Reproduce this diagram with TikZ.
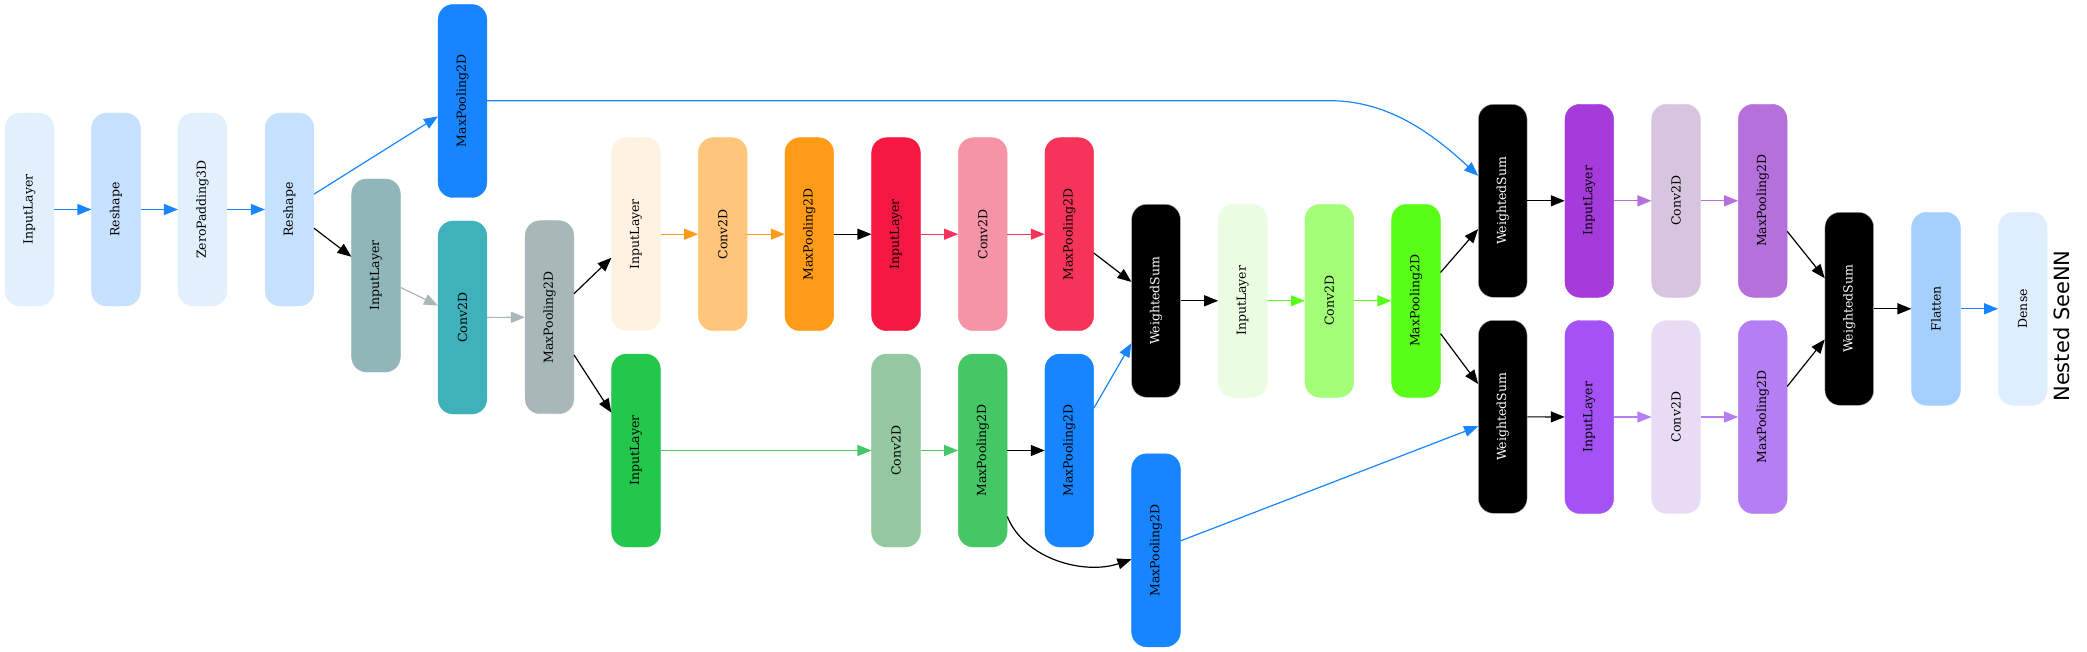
\documentclass[tikz,border=0pt]{standalone}
\usepackage{fontspec}
\setmainfont{DejaVu Serif}
\newfontfamily\titlefont{DejaVu Sans}
\usetikzlibrary{arrows.meta,calc}
\definecolor{cA}{HTML}{E2EFFD}
\definecolor{cB}{HTML}{C6E1FD}
\definecolor{cBlue}{HTML}{1685FF}
\definecolor{cTg}{HTML}{8FB7BA}
\definecolor{cTe}{HTML}{3FB1BB}
\definecolor{cGr}{HTML}{A8B8B9}
\definecolor{cO1}{HTML}{FFF2E2}
\definecolor{cO2}{HTML}{FFC57A}
\definecolor{cO3}{HTML}{FF9B17}
\definecolor{cR1}{HTML}{F71743}
\definecolor{cR2}{HTML}{F694A7}
\definecolor{cR3}{HTML}{F6345A}
\definecolor{cG1}{HTML}{23C74C}
\definecolor{cG2}{HTML}{93C8A0}
\definecolor{cG3}{HTML}{44C764}
\definecolor{cL1}{HTML}{EAFDE3}
\definecolor{cL2}{HTML}{A3FE78}
\definecolor{cL3}{HTML}{58FE18}
\definecolor{cP1}{HTML}{A63BDC}
\definecolor{cP2}{HTML}{D7C5E0}
\definecolor{cP3}{HTML}{B670DC}
\definecolor{cQ1}{HTML}{A452F5}
\definecolor{cQ2}{HTML}{E8DCF5}
\definecolor{cQ3}{HTML}{B67EF5}
\definecolor{cFl}{HTML}{A5D0FD}
\definecolor{cDe}{HTML}{DFEEFD}
\begin{document}
\begin{tikzpicture}[x=1pt,y=-1pt,
  layer/.style={rectangle, rounded corners=15pt, minimum width=48.7pt, minimum height=193pt,
    inner sep=0pt, font=\fontsize{12.5}{14}\selectfont, text=black, fill=#1, draw=#1, line width=0.4pt},
  wsum/.style={layer=black, draw=gray!60, text=white},
  edge/.style={draw=#1, -{Triangle[length=14pt,width=11pt]}, line width=1.2pt},
  edge/.default=black]
\useasboundingbox (0,0) rectangle (2087,652);
% nodes
\node[layer=cA] (in1) at (29.5,209.5) {\rotatebox{90}{InputLayer}};
\node[layer=cB] (rs1) at (116,209.5) {\rotatebox{90}{Reshape}};
\node[layer=cA] (zp) at (202.5,209.5) {\rotatebox{90}{ZeroPadding3D}};
\node[layer=cB] (rs2) at (289.5,209.5) {\rotatebox{90}{Reshape}};
\node[layer=cBlue] (mpA) at (462.5,101) {\rotatebox{90}{MaxPooling2D}};
\node[layer=cTg] (inT) at (376,275.5) {\rotatebox{90}{InputLayer}};
\node[layer=cTe] (cvT) at (462.5,317.5) {\rotatebox{90}{Conv2D}};
\node[layer=cGr] (mpG) at (549.5,317.2) {\rotatebox{90}{MaxPooling2D}};
\node[layer=cO1] (inO) at (636,234.2) {\rotatebox{90}{InputLayer}};
\node[layer=cO2] (cvO) at (722.7,234.2) {\rotatebox{90}{Conv2D}};
\node[layer=cO3] (mpO) at (809.3,234.2) {\rotatebox{90}{MaxPooling2D}};
\node[layer=cR1] (inR) at (896,234.2) {\rotatebox{90}{InputLayer}};
\node[layer=cR2] (cvR) at (982.7,234.2) {\rotatebox{90}{Conv2D}};
\node[layer=cR3] (mpR) at (1069.3,234.2) {\rotatebox{90}{MaxPooling2D}};
\node[layer=cG1] (inG) at (636,450.5) {\rotatebox{90}{InputLayer}};
\node[layer=cG2] (cvG) at (896,450.5) {\rotatebox{90}{Conv2D}};
\node[layer=cG3] (mpGG) at (982.7,450.5) {\rotatebox{90}{MaxPooling2D}};
\node[layer=cBlue] (mpB2) at (1069.3,450.5) {\rotatebox{90}{MaxPooling2D}};
\node[layer=cBlue] (mpB3) at (1156,550.3) {\rotatebox{90}{MaxPooling2D}};
\node[wsum] (ws1) at (1156,300.8) {\rotatebox{90}{WeightedSum}};
\node[layer=cL1] (inL) at (1242.7,300.8) {\rotatebox{90}{InputLayer}};
\node[layer=cL2] (cvL) at (1329.3,300.8) {\rotatebox{90}{Conv2D}};
\node[layer=cL3] (mpL) at (1416,300.8) {\rotatebox{90}{MaxPooling2D}};
\node[wsum] (ws2) at (1502.7,200.8) {\rotatebox{90}{WeightedSum}};
\node[wsum] (ws3) at (1502.7,416.8) {\rotatebox{90}{WeightedSum}};
\node[layer=cP1] (inP) at (1589.3,200.8) {\rotatebox{90}{InputLayer}};
\node[layer=cP2] (cvP) at (1676,200.8) {\rotatebox{90}{Conv2D}};
\node[layer=cP3] (mpP) at (1762.7,200.8) {\rotatebox{90}{MaxPooling2D}};
\node[layer=cQ1] (inQ) at (1589.3,417) {\rotatebox{90}{InputLayer}};
\node[layer=cQ2] (cvQ) at (1676,417) {\rotatebox{90}{Conv2D}};
\node[layer=cQ3] (mpQ) at (1762.7,417) {\rotatebox{90}{MaxPooling2D}};
\node[wsum] (ws4) at (1849.3,308.8) {\rotatebox{90}{WeightedSum}};
\node[layer=cFl] (fl) at (1936,308.8) {\rotatebox{90}{Flatten}};
\node[layer=cDe] (de) at (2022.7,308.8) {\rotatebox{90}{Dense}};
\node[font=\titlefont\fontsize{21}{24}\selectfont, rotate=90, inner sep=0pt] (title) at (2062,326) {Nested SeeNN};
% edges
\draw[edge=cBlue] (in1) -- (rs1);
\draw[edge=cBlue] (rs1) -- (zp);
\draw[edge=cBlue] (zp) -- (rs2);
\draw[edge=cBlue] (rs2) -- (mpA);
\draw[edge] (rs2) -- (inT);
\draw[edge=cGr] (inT) -- (cvT);
\draw[edge=cGr] (cvT) -- (mpG);
\draw[edge] (mpG) -- (inO);
\draw[edge] (mpG) -- (inG);
\draw[edge=cO3] (inO) -- (cvO);
\draw[edge=cO3] (cvO) -- (mpO);
\draw[edge] (mpO) -- (inR);
\draw[edge=cR3] (inR) -- (cvR);
\draw[edge=cR3] (cvR) -- (mpR);
\draw[edge] (mpR) -- (ws1);
\draw[edge=cG3] (inG) -- (cvG);
\draw[edge=cG3] (cvG) -- (mpGG);
\draw[edge] (mpGG) -- (mpB2);
\draw[edge] ($(mpGG.east)+(0,66)$) .. controls (1025,560) and (1085,575) .. ($(mpB3.west)+(0,9)$);
\draw[edge=cBlue] (mpB2) -- (ws1);
\draw[edge=cBlue] (mpB3) -- (ws3);
\draw[edge] (ws1) -- (inL);
\draw[edge=cL3] (inL) -- (cvL);
\draw[edge=cL3] (cvL) -- (mpL);
\draw[edge] (mpL) -- (ws2);
\draw[edge] (mpL) -- (ws3);
\coordinate (bend) at (1330,100.7);
\draw[edge=cBlue] (mpA.east |- bend) -- (bend) .. controls (1390,100.7) and (1435,136) .. ($(ws2.west)+(0,-25)$);
\draw[edge] (ws2) -- (inP);
\draw[edge=cP3] (inP) -- (cvP);
\draw[edge=cP3] (cvP) -- (mpP);
\draw[edge] (ws3) -- (inQ);
\draw[edge=cQ3] (inQ) -- (cvQ);
\draw[edge=cQ3] (cvQ) -- (mpQ);
\draw[edge] (mpP) -- (ws4);
\draw[edge] (mpQ) -- (ws4);
\draw[edge] (ws4) -- (fl);
\draw[edge=cBlue] (fl) -- (de);
\end{tikzpicture}
\end{document}
